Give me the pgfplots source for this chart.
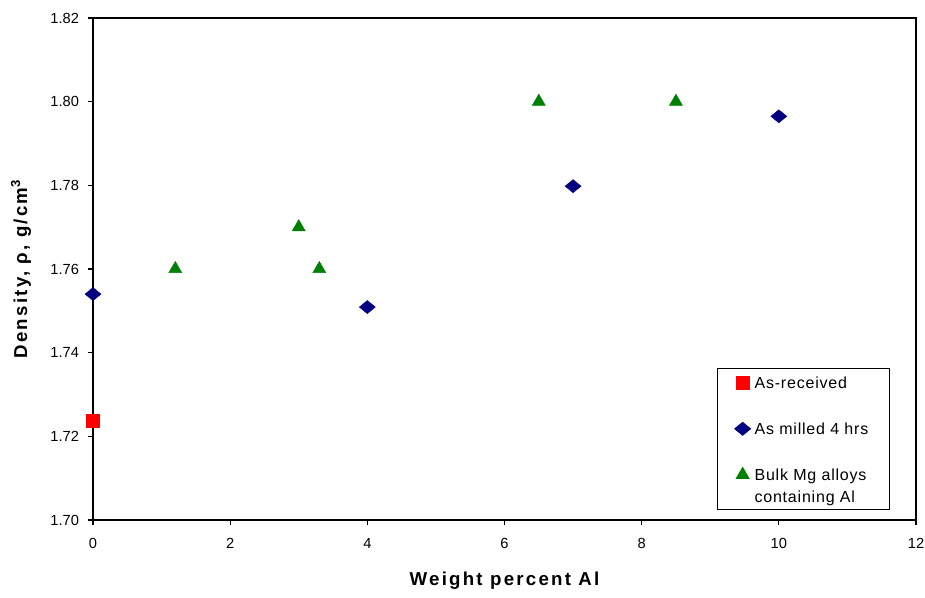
\documentclass[border=0pt]{standalone}
\usepackage{fontspec}
\setmainfont{Liberation Sans}
\usepackage{pgfplots}
\pgfplotsset{compat=1.18}
\definecolor{navyb}{RGB}{0,0,128}
\definecolor{greenb}{RGB}{0,128,0}
\newcommand{\lent}[1]{\begin{tabular}[b]{@{}p{87pt}@{}}#1\end{tabular}}
\begin{document}
\begin{tikzpicture}
\path[use as bounding box] (-69.75pt,-58.5pt) rectangle (624pt,390pt);
\begin{axis}[
 at={(0pt,0pt)}, anchor=south west,
 scale only axis, width=617.25pt, height=376.5pt,
 xmin=0, xmax=12, ymin=1.70, ymax=1.82,
 xtick={0,2,4,6,8,10,12},
 ytick={1.70,1.72,1.74,1.76,1.78,1.80,1.82},
 xtick pos=left, ytick pos=left, tick align=outside, major tick length=4pt,
 minor tick num=0,
 axis line style={line width=0.8pt},
 tick style={line width=0.8pt, black},
 /pgf/number format/assume math mode=true,
 ticklabel style={font=\fontsize{11}{13}\selectfont},
 yticklabel style={/pgf/number format/.cd, fixed, fixed zerofill, precision=2, /tikz/.cd, xshift=-3pt},
 xticklabel style={yshift=-6pt},
 scaled y ticks=false,
 xlabel={Weight percent Al},
 ylabel={Density, ρ, g/cm\textsuperscript{3}},
 every axis x label/.style={at={(axis description cs:0.5,-0.121)}, anchor=center, font=\fontsize{14}{17}\selectfont\bfseries\addfontfeatures{LetterSpace=12}},
 every axis y label/.style={at={(axis description cs:-0.0875,0.5)}, rotate=90, anchor=center, font=\fontsize{14}{17}\selectfont\bfseries\addfontfeatures{LetterSpace=12}},
 clip=false,
 only marks,
 legend cell align=left,
 legend style={at={(axis description cs:0.7582,0.3028)}, anchor=north west, draw=black, line width=0.6pt,
   font=\fontsize{12}{16.5}\selectfont\addfontfeatures{LetterSpace=5}, nodes={inner sep=1pt}, inner xsep=13pt, inner ysep=2.5pt,
   row sep=19.5pt, column sep=2pt, cells={anchor=base west}},
]
\addplot[mark=square*, mark size=4.8pt, color=red, legend image post style={yshift=4.3pt}] coordinates {(0,1.7237)};
\addlegendentry{\lent{As-received}}
\addplot[mark=square*, mark size=4.2pt, mark options={yscale=0.82, rotate=45}, color=navyb, legend image post style={yshift=4.3pt}] coordinates {(0,1.754)(4,1.7509)(7,1.7798)(10,1.7965)};
\addlegendentry{\lent{As milled 4 hrs}}
\addplot[mark=triangle*, mark size=5.6pt, color=greenb, legend image post style={yshift=20.8pt}] coordinates {(1.2,1.76)(3,1.77)(3.3,1.76)(6.5,1.80)(8.5,1.80)};
\addlegendentry{\lent{Bulk Mg alloys\\containing Al}}
\end{axis}
\end{tikzpicture}
\end{document}
